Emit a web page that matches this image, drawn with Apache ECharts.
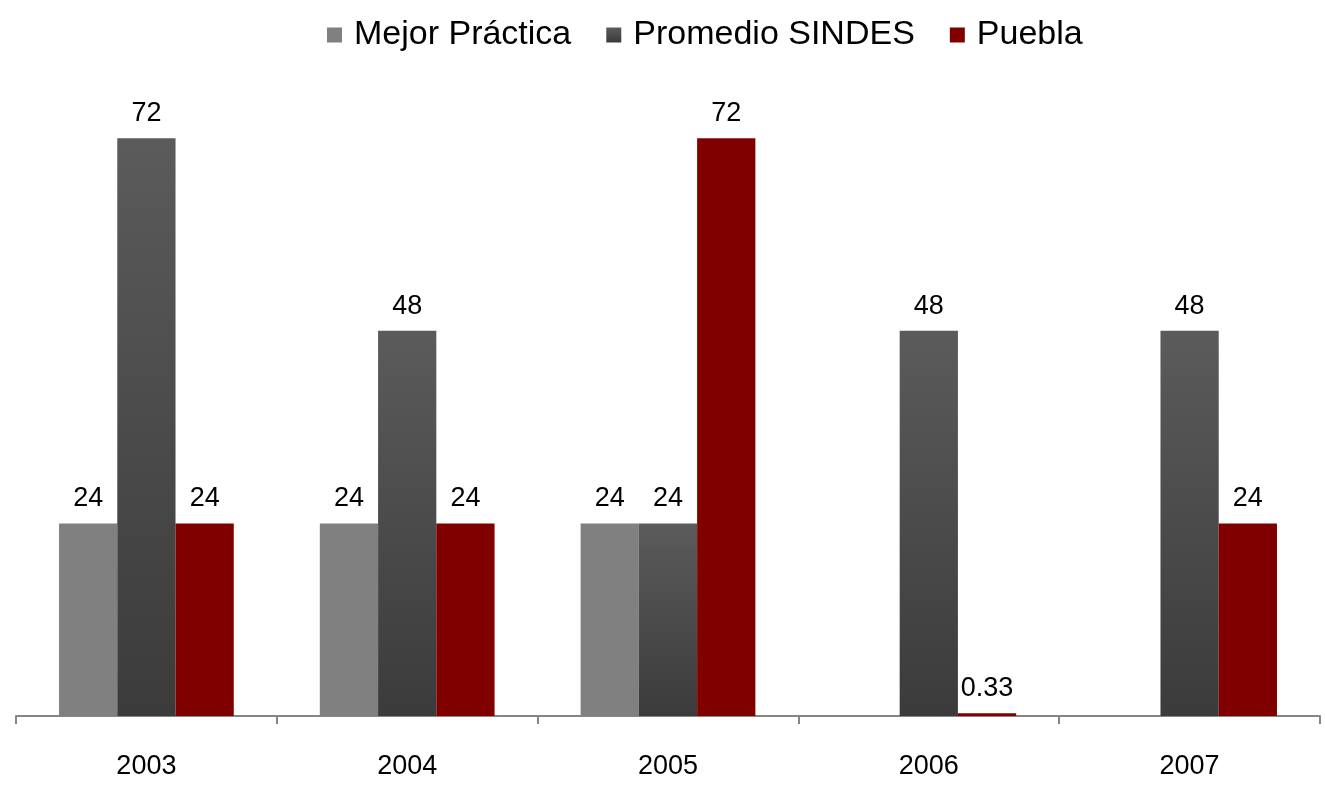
<!DOCTYPE html>
<html>
<head>
<meta charset="utf-8">
<script src="https://cdn.jsdelivr.net/npm/echarts@6/dist/echarts.min.js"></script>
<style>
  html, body { margin: 0; padding: 0; background: #fff; }
  #chart { width: 1325px; height: 786px; }
</style>
</head>
<body>
<div id="chart"></div>
<script>
// years on the x axis
var years = ["2003", "2004", "2005", "2006", "2007"];
var mejorPractica = [24, 24, 24, null, null];
var promedioSindes = [72, 48, 24, 48, 48];
var puebla = [24, 24, 72, 0.33, 24];

var chart = echarts.init(document.getElementById("chart"));

var labelStyle = {
  show: true,
  position: "top",
  distance: 11,
  color: "#000",
  fontSize: 27,
  fontFamily: "Liberation Sans, Arial, sans-serif"
};

chart.setOption({
  animation: false,
  textStyle: { fontFamily: "Liberation Sans, Arial, sans-serif" },
  legend: {
    top: 13,
    left: 322,
    itemWidth: 15,
    itemHeight: 15,
    itemGap: 35,
    icon: "rect",
    textStyle: { fontSize: 34, color: "#000", padding: [0, 0, 0, 7] },
    data: ["Mejor Práctica", "Promedio SINDES", "Puebla"]
  },
  grid: {
    left: 16,
    right: 5,
    top: 74,
    bottom: 70
  },
  xAxis: {
    type: "category",
    data: years,
    axisLine: { lineStyle: { color: "#868686", width: 2 } },
    axisTick: { show: true, length: 8, lineStyle: { color: "#868686", width: 2 } },
    axisLabel: { fontSize: 27, color: "#000", margin: 37 }
  },
  yAxis: {
    type: "value",
    min: 0,
    max: 80,
    show: false,
    splitLine: { show: false }
  },
  series: [
    {
      name: "Mejor Práctica",
      type: "bar",
      data: mejorPractica,
      barGap: "0%",
      barCategoryGap: "33%",
      itemStyle: { color: "#808080" },
      label: labelStyle
    },
    {
      name: "Promedio SINDES",
      type: "bar",
      data: promedioSindes,
      itemStyle: {
        color: new echarts.graphic.LinearGradient(0, 0, 0, 1, [
          { offset: 0, color: "#5b5b5b" },
          { offset: 1, color: "#3b3b3b" }
        ])
      },
      label: labelStyle
    },
    {
      name: "Puebla",
      type: "bar",
      data: puebla,
      itemStyle: { color: "#800000" },
      label: labelStyle
    }
  ]
});
</script>
</body>
</html>
